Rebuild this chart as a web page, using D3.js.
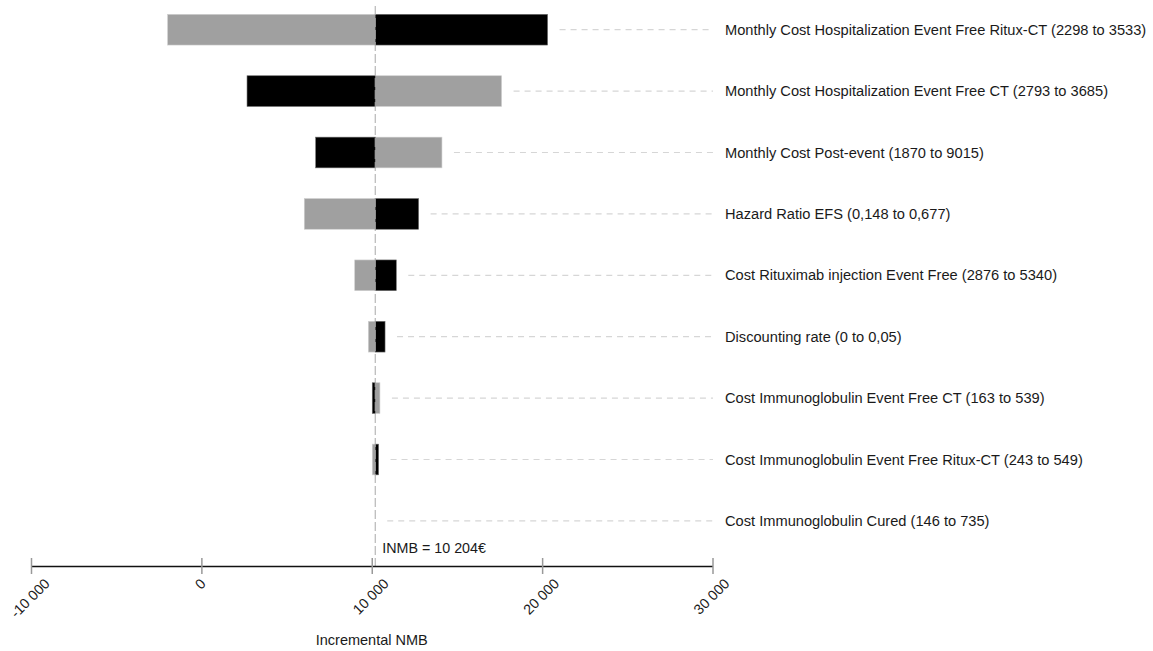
<!DOCTYPE html>
<html>
<head>
<meta charset="utf-8">
<script src="https://cdn.jsdelivr.net/npm/d3@7"></script>
<style>
  html, body { margin: 0; padding: 0; background: #fff; }
  svg { display: block; font-family: "Liberation Sans", Arial, sans-serif; }
</style>
</head>
<body>
<svg id="chart" width="1153" height="651"></svg>
<script>
// One-way sensitivity analysis (tornado) on the incremental net monetary benefit
const parameters = [
  "Monthly Cost Hospitalization Event Free Ritux-CT (2298 to 3533)",
  "Monthly Cost Hospitalization Event Free CT (2793 to 3685)",
  "Monthly Cost Post-event (1870 to 9015)",
  "Hazard Ratio EFS (0,148 to 0,677)",
  "Cost Rituximab injection Event Free (2876 to 5340)",
  "Discounting rate (0 to 0,05)",
  "Cost Immunoglobulin Event Free CT (163 to 539)",
  "Cost Immunoglobulin Event Free Ritux-CT (243 to 549)",
  "Cost Immunoglobulin Cured (146 to 735)"
];
// INMB with the parameter at its lower bound (black bars)
const nmbLowerBound = [20320, 2680, 6710, 12750, 11440, 10780, 10030, 10400, 10204];
// INMB with the parameter at its upper bound (grey bars)
const nmbUpperBound = [-1980, 17620, 14120, 6040, 9000, 9800, 10480, 10030, 10204];
const baseINMB = 10204;
const xTicks = [-10000, 0, 10000, 20000, 30000];
const xTickLabels = ["-10 000", "0", "10 000", "20 000", "30 000"];

const svg = d3.select("#chart");
const x = d3.scaleLinear().domain([-10000, 30000]).range([31, 712.5]);
const y = d3.scaleBand().domain(parameters).range([-1, 551.6])
  .paddingInner(0.5).paddingOuter(0.25);
const axisY = 566;

const rows = parameters.map((p, i) => ({
  name: p, lower: nmbLowerBound[i], upper: nmbUpperBound[i]
}));

// dashed guides from the bars to the parameter labels
svg.append("g").selectAll("line").data(rows).join("line")
  .attr("x1", d => Math.max(x(d.lower), x(d.upper), x(baseINMB)) + 12)
  .attr("x2", 713)
  .attr("y1", d => y(d.name) + y.bandwidth() / 2)
  .attr("y2", d => y(d.name) + y.bandwidth() / 2)
  .attr("stroke", "#d6d6d6").attr("stroke-width", 1.2)
  .attr("stroke-dasharray", "6,5");

// bars: grey = upper bound, black = lower bound
const bars = svg.append("g");
bars.selectAll("rect.up").data(rows).join("rect").attr("class", "up")
  .attr("x", d => Math.min(x(d.upper), x(baseINMB)))
  .attr("width", d => Math.abs(x(d.upper) - x(baseINMB)))
  .attr("y", d => y(d.name)).attr("height", y.bandwidth())
  .attr("fill", "#a0a0a0").attr("stroke", "#cfcfcf").attr("stroke-width", 0.6);
bars.selectAll("rect.low").data(rows).join("rect").attr("class", "low")
  .attr("x", d => Math.min(x(d.lower), x(baseINMB)))
  .attr("width", d => Math.abs(x(d.lower) - x(baseINMB)))
  .attr("y", d => y(d.name)).attr("height", y.bandwidth())
  .attr("fill", "#000").attr("stroke", "#6a6a6a").attr("stroke-width", 0.6);

// base-case reference line
svg.append("line")
  .attr("x1", x(baseINMB)).attr("x2", x(baseINMB))
  .attr("y1", 6).attr("y2", axisY)
  .attr("stroke", "#a8a8a8").attr("stroke-width", 1)
  .attr("stroke-dasharray", "9,3");
svg.append("text")
  .attr("x", x(baseINMB) + 7).attr("y", 553)
  .attr("font-size", "14.3px").attr("fill", "#1a1a1a")
  .text("INMB = 10 204€");

// parameter labels
svg.append("g").selectAll("text").data(rows).join("text")
  .attr("x", 725)
  .attr("y", d => y(d.name) + y.bandwidth() / 2)
  .attr("dy", "0.35em")
  .attr("font-size", "14.65px").attr("fill", "#1a1a1a")
  .text(d => d.name);

// x axis
const axis = d3.axisBottom(x).tickValues(xTicks).tickSize(0).tickFormat("");
const gAxis = svg.append("g").attr("transform", `translate(0,${axisY})`).call(axis);
gAxis.select(".domain").attr("stroke", "#111").attr("stroke-width", 1.6);
gAxis.selectAll(".tick").append("line")
  .attr("y1", -8).attr("y2", 8)
  .attr("stroke", "#999").attr("stroke-width", 1.5);

const tickG = svg.append("g");
xTicks.forEach((v, i) => {
  const t = tickG.append("text")
    .attr("font-size", "14.3px").attr("fill", "#1a1a1a")
    .attr("text-anchor", "middle").attr("dominant-baseline", "central")
    .text(xTickLabels[i]);
  const len = t.node().getComputedTextLength();
  const cx = x(v) - 1, cy = 578 + len * 0.3536 + 3;
  t.attr("x", cx).attr("y", cy).attr("transform", `rotate(-45,${cx},${cy})`);
});

svg.append("text")
  .attr("x", x(10000)).attr("y", 645)
  .attr("text-anchor", "middle")
  .attr("font-size", "14.5px").attr("fill", "#1a1a1a")
  .text("Incremental NMB");
</script>
</body>
</html>
